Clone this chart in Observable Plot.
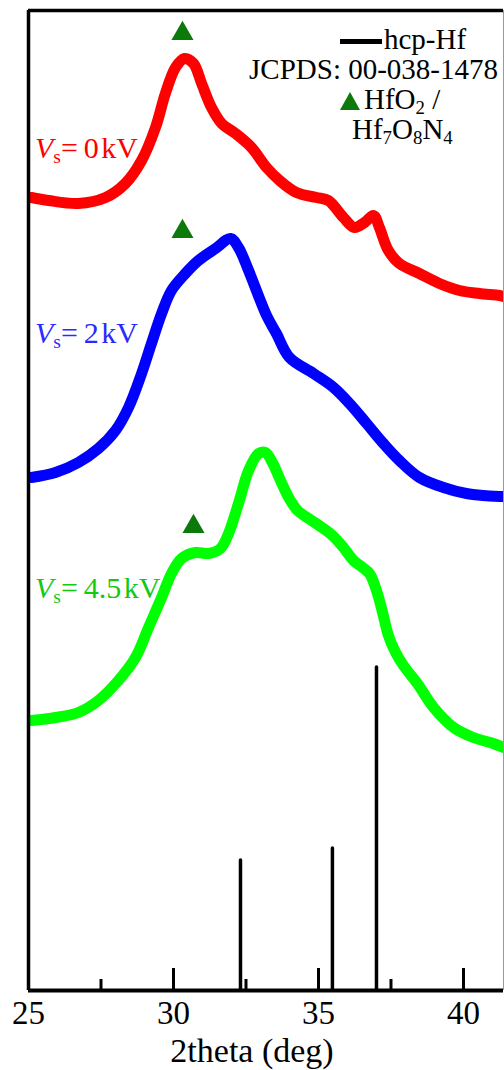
<!DOCTYPE html>
<html><head><meta charset="utf-8">
<script src="https://cdn.jsdelivr.net/npm/d3@7"></script>
<script src="https://cdn.jsdelivr.net/npm/@observablehq/plot@0.6"></script>
<style>
body{margin:0;background:#fff;}
#wrap{position:relative;width:504px;height:1070px;font-family:"Liberation Serif","Times New Roman",serif;}
.lab{position:absolute;white-space:nowrap;line-height:1;}
.lab sub{font-size:0.65em;vertical-align:baseline;position:relative;top:0.28em;}
</style></head>
<body><div id="wrap"></div>
<script>
// ---- data ----
const xTickLabels = [25, 30, 35, 40];
const majorTicks = [30, 35, 40];
const minorTicks = [27.5, 32.5, 37.5];

// Vs = 0 kV (red)
const theta0 = [25.10,25.69,26.72,27.66,28.34,28.90,29.38,29.72,30.07,30.38,30.69,30.97,31.31,31.66,32.14,32.69,33.21,33.66,34.24,34.93,35.34,35.86,36.24,36.59,36.90,37.10,37.41,37.79,38.48,39.17,39.86,40.55,41.24,41.38];
const int0   = [793,790,787,793,807,830,863,897,923,932,927,907,883,867,857,843,823,810,798,793,790,773,763,768,775,763,740,727,717,707,700,697,695,694];

// Vs = 2 kV (blue)
const theta2 = [25.10,25.93,26.72,27.41,28.00,28.45,28.90,29.24,29.59,29.93,30.41,30.86,31.45,31.97,32.24,32.59,33.21,33.55,34.00,34.83,35.52,36.07,36.66,37.24,37.79,38.48,39.31,40.10,41.24,41.38];
const int2   = [513,518,528,542,560,583,617,647,677,700,717,730,742,752,743,720,675,657,633,617,603,587,567,547,530,513,503,497,494,494];

// Vs = 4.5 kV (green)
const theta45 = [25.10,25.93,26.72,27.41,28.10,28.69,29.14,29.59,29.93,30.28,30.76,31.21,31.62,31.90,32.24,32.59,32.93,33.17,33.41,33.69,33.97,34.28,34.66,35.07,35.48,35.86,36.21,36.52,36.76,37.00,37.21,37.41,37.66,37.93,38.41,38.97,39.66,40.34,41.03,41.38];
const int45   = [270,273,278,290,310,333,363,393,417,432,438,437,442,457,487,520,537,538,528,510,493,480,472,464,455,443,430,423,417,400,378,355,338,325,307,283,263,253,247,243];

// hcp-Hf reference pattern (JCPDS 00-038-1478)
const hcpTheta = [32.31, 35.48, 37.00];
const hcpInt   = [130, 142, 323];

// HfO2 / Hf7O8N4 markers
const markTheta = [30.31, 30.31, 30.69];
const markInt   = [957, 759, 464];

const seriesNames  = ["0 kV", "2 kV", "4.5 kV"];
const seriesColors = ["#ff0000", "#0000ff", "#00ff00"];

// ---- build table ----
const curves = [];
[[theta0,int0],[theta2,int2],[theta45,int45]].forEach(([t,v],k) => {
  t.forEach((x,i) => curves.push({series: seriesNames[k], theta: x, I: v[i]}));
});
const hcp = hcpTheta.map((t,i) => ({theta: t, I: hcpInt[i]}));
const marks = markTheta.map((t,i) => ({theta: t, I: markInt[i]}));

const X_MAX = 41.38, Y_MAX = 980;
const serif = "Liberation Serif";

const chart = Plot.plot({
  width: 504, height: 1070,
  marginLeft: 28, marginRight: 1, marginTop: 10, marginBottom: 80,
  x: {domain: [25, X_MAX], axis: null},
  y: {domain: [0, Y_MAX], axis: null},
  color: {domain: seriesNames, range: seriesColors},
  style: {background: "transparent", overflow: "visible"},
  marks: [
    Plot.ruleX(hcp, {x: "theta", y1: 0, y2: "I", stroke: "black", strokeWidth: 3.5, strokeLinecap: "round"}),
    Plot.line(curves, {x: "theta", y: "I", z: "series", stroke: "series", strokeWidth: 11, curve: "catmull-rom", strokeLinejoin: "round", clip: true}),
    Plot.dot(marks, {x: "theta", y: "I", symbol: "triangle", r: 8.2, fill: "#0b7a0b", stroke: "none"}),
    Plot.ruleX(majorTicks, {x: d => d, y1: 0, y2: 22, stroke: "black", strokeWidth: 3}),
    Plot.ruleX(minorTicks, {x: d => d, y1: 0, y2: 11, stroke: "black", strokeWidth: 3}),
    Plot.ruleX([X_MAX], {stroke: "#999", strokeWidth: 1}),
    Plot.ruleY([0], {stroke: "black", strokeWidth: 4}),
    Plot.ruleY([Y_MAX], {stroke: "black", strokeWidth: 3.5}),
    Plot.ruleX([25], {stroke: "black", strokeWidth: 3.5}),
    Plot.text(xTickLabels, {x: d => d, frameAnchor: "bottom", dy: 33, lineAnchor: "bottom", text: d => String(d), fontSize: 33, fontFamily: serif, fill: "black"}),
    Plot.text(["2theta (deg)"], {frameAnchor: "bottom", dx: -14, dy: 71, lineAnchor: "bottom", fontSize: 34, fontFamily: serif, fill: "black"})
  ]
});
const wrap = document.getElementById("wrap");
chart.style.position = "absolute";
chart.style.left = "0"; chart.style.top = "0";
wrap.appendChild(chart);

// ---- annotations (HTML overlay) ----
function label(html, left, baseline, fs, color, right) {
  const d = document.createElement("div");
  d.className = "lab";
  d.innerHTML = html;
  if (right != null) d.style.right = right + "px"; else d.style.left = left + "px";
  d.style.top = (baseline - 0.8375 * fs) + "px";
  d.style.fontSize = fs + "px";
  d.style.color = color;
  wrap.appendChild(d);
  return d;
}
const vs = v => `<i>V</i><sub>s</sub>=&#8201;${v.replace(" ", "&#8202;")}`;
label(vs(seriesNames[0]), 35, 158, 30, "#ff0000");
label(vs(seriesNames[1]), 35, 343, 30, "#2a2aff");
label(vs(seriesNames[2]), 35, 598, 30, "#14c814");

// legend
const bar = document.createElement("div");
Object.assign(bar.style, {position: "absolute", left: "340px", top: "39px", width: "42px", height: "5px", background: "black"});
wrap.appendChild(bar);
label("hcp-Hf", 384, 49, 29, "black");
label("JCPDS: 00-038-1478", null, 79, 29, "black", 6);
const tri = document.createElement("div");
tri.innerHTML = '<svg width="22" height="20"><polygon points="11,1 21,19 1,19" fill="#0b7a0b"/></svg>';
Object.assign(tri.style, {position: "absolute", left: "339px", top: "91px", lineHeight: "0"});
wrap.appendChild(tri);
label("HfO<sub>2</sub> /", 364, 109, 29, "black");
label("Hf<sub>7</sub>O<sub>8</sub>N<sub>4</sub>", 352, 139, 29, "black");
</script>
</body></html>
